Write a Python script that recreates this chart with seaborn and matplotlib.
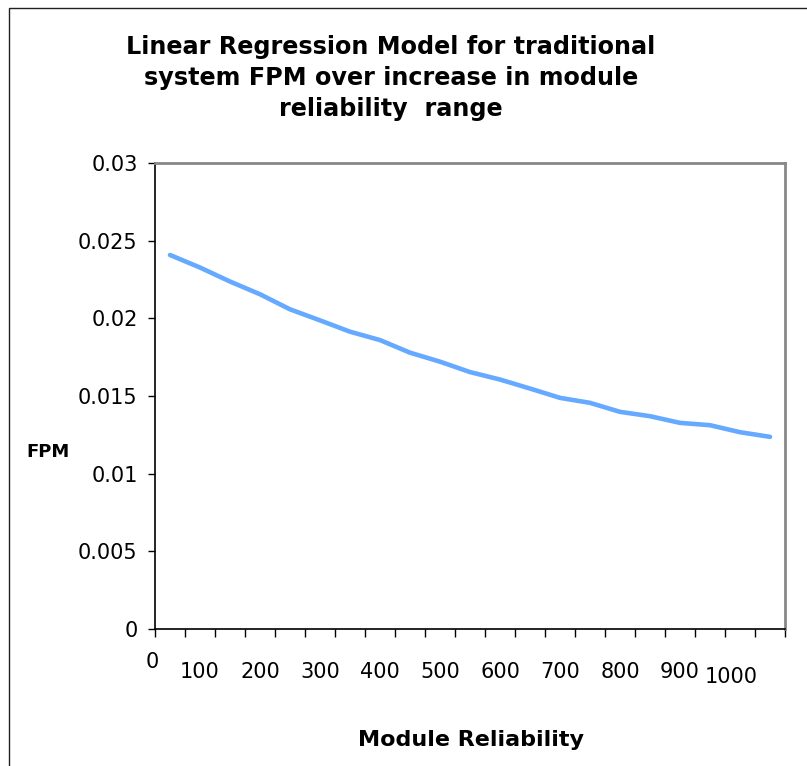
import matplotlib
matplotlib.use("Agg")
import matplotlib.pyplot as plt
import matplotlib.transforms as mtransforms
import seaborn as sns
import pandas as pd
import numpy as np
from matplotlib.patches import Rectangle

# ---- data ----
category_index = list(range(21))
fpm_values = [0.02408, 0.02327, 0.02237, 0.02155, 0.02058, 0.01987, 0.01914,
              0.01860, 0.01779, 0.01721, 0.01654, 0.01606, 0.01548, 0.01488,
              0.01456, 0.01398, 0.01370, 0.01327, 0.01312, 0.01267, 0.01237]
x_tick_labels = ["0", "100", "200", "300", "400", "500", "600", "700", "800", "900", "1000"]
x_label_positions = [-0.6, 1, 3, 5, 7, 9, 11, 13, 15, 17, 18.7]
y_ticks = [0, 0.005, 0.01, 0.015, 0.02, 0.025, 0.03]
y_tick_labels = ["0", "0.005", "0.01", "0.015", "0.02", "0.025", "0.03"]

title = "Linear Regression Model for traditional\nsystem FPM over increase in module\nreliability  range"

df = pd.DataFrame({"cat": category_index, "FPM": fpm_values})

sns.set_style("white")
plt.rcParams["font.family"] = ["DejaVu Sans"]
plt.rcParams["text.color"] = "black"

W, H = 807, 766
fig = plt.figure(figsize=(W / 100, H / 100), dpi=100)
fig.patch.set_facecolor("white")

# outer chart border
fig.patches.append(Rectangle((9 / W, -0.01), 1.2, 1 - 8 / H + 0.01, transform=fig.transFigure,
                             fill=False, edgecolor="#202020", linewidth=1.0))

ax = fig.add_axes([155 / W, 1 - 629 / H, 630 / W, 466 / H])
sns.lineplot(data=df, x="cat", y="FPM", ax=ax, color="#66AAFF", linewidth=3.3)

ax.set_xlim(-0.5, 20.5)
ax.set_ylim(0, 0.03)
ax.set_xticks(np.arange(-0.5, 21.0, 1.0))
ax.set_xticklabels([])
ax.set_yticks(y_ticks)
ax.set_yticklabels(y_tick_labels, fontsize=15, color="black")
ax.tick_params(axis="both", direction="out", length=5, width=1, color="black",
               bottom=True, left=True, pad=7.5)
ax.tick_params(axis="x", length=6)
ax.set_xlabel("")
ax.set_ylabel("")

for s in ["left", "bottom"]:
    ax.spines[s].set_color("black")
    ax.spines[s].set_linewidth(1.2)
for s in ["top", "right"]:
    ax.spines[s].set_color("#888888")
    ax.spines[s].set_linewidth(2.0)

# x category labels placed like the original
blend = mtransforms.blended_transform_factory(ax.transData, fig.transFigure)
for pos, lab in zip(x_label_positions, x_tick_labels):
    if lab == "0":
        yp = 662
    elif lab == "1000":
        yp = 677
    else:
        yp = 672
    ax.text(pos, 1 - yp / H, lab, transform=blend, ha="center", va="center",
            fontsize=15, color="black", clip_on=False)

fig.text(391 / W, 1 - 78 / H, title, ha="center", va="center", fontsize=17.2,
         fontweight="bold", linespacing=1.38, color="black")
fig.text(48 / W, 1 - 452 / H, "FPM", ha="center", va="center", fontsize=13,
         fontweight="bold", color="black")
fig.text(471 / W, 1 - 740 / H, "Module Reliability", ha="center", va="center",
         fontsize=16, fontweight="bold", color="black")

fig.savefig("out.png", dpi=100)
